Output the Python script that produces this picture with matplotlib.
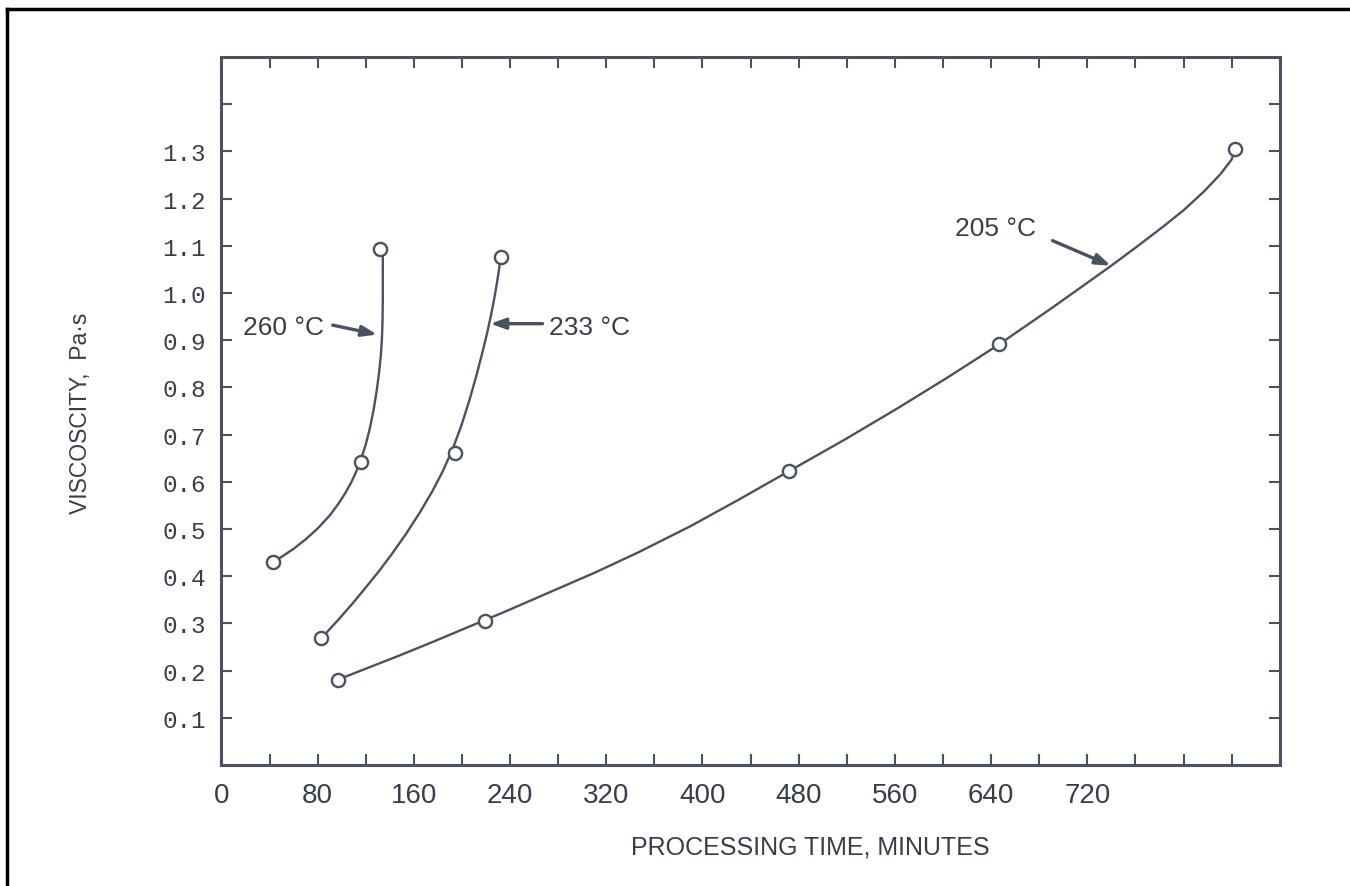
import matplotlib
matplotlib.use("Agg")
import matplotlib.pyplot as plt
from matplotlib.lines import Line2D

# ---- data ----
pts_260_x = [42.7, 115.7, 132.2]
pts_260_y = [0.430, 0.643, 1.094]
pts_233_x = [83.1, 194.4, 232.3]
pts_233_y = [0.270, 0.660, 1.076]
pts_205_x = [96.9, 219.0, 472.2, 646.5, 843.0]
pts_205_y = [0.181, 0.305, 0.623, 0.891, 1.305]

curve_260_x = [42.7, 50.0, 60.0, 70.0, 80.0, 90.0, 97.0, 103.0, 108.0, 112.0, 116.0,
               120.0, 123.5, 126.5, 129.0, 131.0, 132.5, 133.5, 134.0, 134.2, 134.2]
curve_260_y = [0.430, 0.441, 0.458, 0.478, 0.501, 0.5285, 0.5525, 0.576, 0.599, 0.621, 0.647,
               0.679, 0.714, 0.752, 0.791, 0.829, 0.866, 0.904, 0.944, 0.990, 1.081]
curve_233_x = [83.1, 87.2, 98.0, 109.3, 120.0, 131.4, 142.0, 153.6, 165.0, 175.6, 184.0,
               192.2, 199.5, 206.1, 212.0, 217.1, 221.0, 224.5, 227.5, 230.0, 231.8]
curve_233_y = [0.270, 0.280, 0.310, 0.343, 0.376, 0.412, 0.448, 0.490, 0.535, 0.581, 0.622,
               0.669, 0.719, 0.772, 0.825, 0.875, 0.916, 0.957, 0.997, 1.036, 1.067]
curve_205_x = [96.9, 120.0, 148.0, 175.0, 203.0, 235.0, 272.0, 310.0, 347.0, 390.0, 430.0,
               472.2, 518.0, 563.0, 605.0, 646.5, 692.0, 739.4, 761.6, 783.7, 800.3,
               816.9, 830.7, 840.0, 843.0]
curve_205_y = [0.181, 0.204, 0.232, 0.260, 0.290, 0.324, 0.365, 0.407, 0.451, 0.506, 0.562,
               0.623, 0.689, 0.757, 0.823, 0.891, 0.971, 1.057, 1.099, 1.142, 1.176,
               1.215, 1.252, 1.283, 1.305]

x_ticks = list(range(0, 881, 40))
x_label_values = [0, 80, 160, 240, 320, 400, 480, 560, 640, 720]
y_ticks = [0.1, 0.2, 0.3, 0.4, 0.5, 0.6, 0.7, 0.8, 0.9, 1.0, 1.1, 1.2, 1.3, 1.4]
y_labels = ["0.1", "0.2", "0.3", "0.4", "0.5", "0.6", "0.7", "0.8", "0.9", "1.0", "1.1", "1.2", "1.3", ""]

labels = ["260 °C", "233 °C", "205 °C"]

TXT = "#383e49"
LN = "#4a5262"
sans = ["Liberation Sans", "DejaVu Sans"]
mono = ["Liberation Mono", "DejaVu Sans Mono"]

fig = plt.figure(figsize=(13.5, 8.87), dpi=100)
ax = fig.add_axes([0.164, 0.1364, 0.784, 0.7982])

ax.plot(curve_260_x, curve_260_y, color=LN, lw=1.7, zorder=2, solid_joinstyle="round")
ax.plot(curve_233_x, curve_233_y, color=LN, lw=1.7, zorder=2, solid_joinstyle="round")
ax.plot(curve_205_x, curve_205_y, color=LN, lw=1.7, zorder=2, solid_joinstyle="round")
for xs, ys in [(pts_260_x, pts_260_y), (pts_233_x, pts_233_y), (pts_205_x, pts_205_y)]:
    ax.plot(xs, ys, ls="none", marker="o", ms=9.5, mfc="white", mec=LN, mew=1.7, zorder=3)

ax.set_xlim(0, 880)
ax.set_ylim(0, 1.5)

lbl_x = [str(t) if t in x_label_values else "" for t in x_ticks]
ax.set_xticks(x_ticks)
ax.set_xticklabels(lbl_x, fontsize=20, color=TXT, family=sans)
ax.set_yticks(y_ticks)
ax.set_yticklabels(y_labels, fontsize=17.5, color=TXT, family=mono)
ax.tick_params(axis="both", direction="in", length=8, width=1.5, colors=LN,
               top=True, right=True, labelcolor=TXT)
ax.tick_params(axis="x", pad=12)
ax.tick_params(axis="y", pad=11)
for sp in ax.spines.values():
    sp.set_color(LN)
    sp.set_linewidth(2.2)

# axis titles placed as in the reference
W, H = 1350.0, 887.0
fig.text(810 / W, 1 - 848 / H, "PROCESSING TIME, MINUTES", fontsize=18, color=TXT,
         family=sans, ha="center", va="center")
fig.text(81 / W, 1 - 413 / H, "VISCOSCITY,  Pa·s", fontsize=16.5, color=TXT,
         family=sans, ha="center", va="center", rotation=90)

arrowprops = dict(arrowstyle="-|>,head_length=0.9,head_width=0.32", color=LN, lw=2.4,
                  shrinkA=0, shrinkB=0)
ax.annotate("", xy=(129.5, 0.912), xytext=(92.5, 0.932), arrowprops=arrowprops)
ax.text(17.8, 0.927, labels[0], fontsize=19, color=TXT, family=sans, va="center", ha="left")
ax.annotate("", xy=(223.5, 0.935), xytext=(267.0, 0.935), arrowprops=arrowprops)
ax.text(272.0, 0.929, labels[1], fontsize=19, color=TXT, family=sans, va="center", ha="left")
ax.annotate("", xy=(739.5, 1.058), xytext=(691.0, 1.111), arrowprops=arrowprops)
ax.text(610.0, 1.138, labels[2], fontsize=19, color=TXT, family=sans, va="center", ha="left")

# outer frame (left and top edges)
fig.add_artist(Line2D([7 / W, 7 / W], [0, 1 - 10 / H], transform=fig.transFigure, color="black", lw=2.5))
fig.add_artist(Line2D([7 / W, 1], [1 - 10 / H, 1 - 10 / H], transform=fig.transFigure, color="black", lw=2.5))

fig.savefig("out.png", dpi=100)
